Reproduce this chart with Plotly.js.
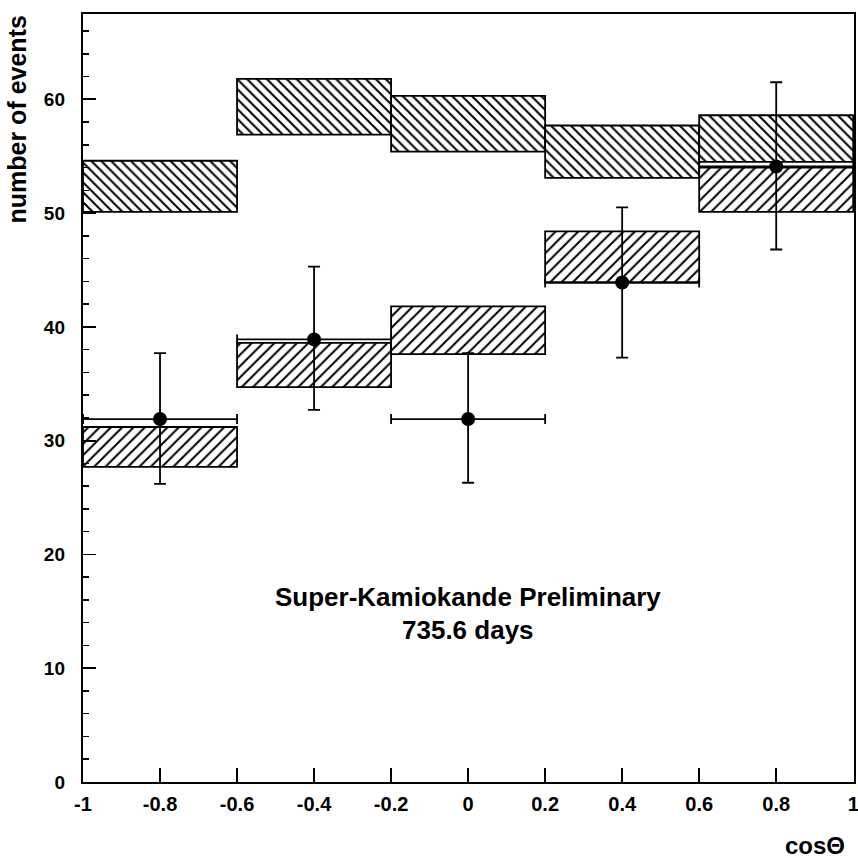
<!DOCTYPE html>
<html>
<head>
<meta charset="utf-8">
<script src="https://cdn.plot.ly/plotly-3.0.1.min.js"></script>
<style>
  html, body { margin: 0; padding: 0; background: #fff; }
  #chart { width: 858px; height: 858px; }
</style>
</head>
<body>
<div id="chart"></div>
<script>
// Bins in cos(theta)
const binCenters = [-0.8, -0.4, 0.0, 0.4, 0.8];
const binWidth = [0.4, 0.4, 0.4, 0.4, 0.4];
const binHalfWidth = [0.2, 0.2, 0.2, 0.2, 0.2];

// Prediction without oscillation (upper hatched boxes)
const noOscLow  = [50.1, 56.9, 55.4, 53.1, 54.5];
const noOscHigh = [54.6, 61.8, 60.3, 57.7, 58.6];

// Prediction with oscillation (lower hatched boxes)
const oscLow  = [27.7, 34.7, 37.6, 43.9, 50.1];
const oscHigh = [31.2, 38.6, 41.8, 48.4, 54.0];

// Data points
const dataY = [31.9, 38.9, 31.9, 43.9, 54.1];
const dataErrPlus  = [5.8, 6.4, 5.8, 6.6, 7.4];
const dataErrMinus = [5.7, 6.2, 5.6, 6.6, 7.3];

// Tick labels
const xTickVals = [-1, -0.8, -0.6, -0.4, -0.2, 0, 0.2, 0.4, 0.6, 0.8, 1];
const xTickText = ["-1", "-0.8", "-0.6", "-0.4", "-0.2", "0", "0.2", "0.4", "0.6", "0.8", "1"];
const yTickVals = [0, 10, 20, 30, 40, 50, 60];
const yTickText = ["0", "10", "20", "30", "40", "50", "60"];

const FONT = "'Liberation Sans', Arial, Helvetica, sans-serif";

function diff(hi, lo) { return hi.map((h, i) => h - lo[i]); }

const traces = [
  {
    type: 'bar',
    x: binCenters,
    y: diff(noOscHigh, noOscLow),
    base: noOscLow,
    width: binWidth,
    marker: {
      color: 'white',
      line: { color: 'black', width: 1.8 },
      pattern: { shape: '\\', fgcolor: 'black', bgcolor: 'white', size: 7, solidity: 0.28 }
    },
    hoverinfo: 'skip',
    showlegend: false
  },
  {
    type: 'bar',
    x: binCenters,
    y: diff(oscHigh, oscLow),
    base: oscLow,
    width: binWidth,
    marker: {
      color: 'white',
      line: { color: 'black', width: 1.8 },
      pattern: { shape: '/', fgcolor: 'black', bgcolor: 'white', size: 8, solidity: 0.25 }
    },
    hoverinfo: 'skip',
    showlegend: false
  },
  {
    type: 'scatter',
    mode: 'markers',
    x: binCenters,
    y: dataY,
    marker: { color: 'black', size: 14 },
    error_y: { type: 'data', symmetric: false, array: dataErrPlus, arrayminus: dataErrMinus,
               color: 'black', thickness: 1.8, width: 6 },
    error_x: { type: 'data', array: binHalfWidth, color: 'black', thickness: 1.8, width: 5 },
    showlegend: false
  }
];

const layout = {
  width: 858, height: 858,
  margin: { l: 83, r: 4, t: 14, b: 76 },
  paper_bgcolor: 'white', plot_bgcolor: 'white',
  barmode: 'overlay',
  showlegend: false,
  font: { family: FONT, color: 'black' },
  xaxis: {
    range: [-1, 1.002],
    tickvals: xTickVals, ticktext: xTickText,
    ticks: 'inside', ticklen: 14, tickwidth: 1.8, tickcolor: 'black',
    showline: true, mirror: true, linecolor: 'black', linewidth: 2.2,
    showgrid: false, zeroline: false,
    tickfont: { family: FONT, size: 20, color: 'black', weight: 'bold' },
    ticklabelstandoff: 3,
    ticklabeloverflow: 'allow'
  },
  yaxis: {
    range: [0, 67.5],
    tickvals: yTickVals, ticktext: yTickText,
    ticks: 'inside', ticklen: 13, tickwidth: 1.8, tickcolor: 'black',
    minor: { dtick: 2, ticks: 'inside', ticklen: 6, tickwidth: 1.5, tickcolor: 'black' },
    showline: true, mirror: true, linecolor: 'black', linewidth: 2.2,
    showgrid: false, zeroline: false,
    tickfont: { family: FONT, size: 19, color: 'black', weight: 'bold' },
    ticklabelstandoff: 12
  },
  annotations: [
    { xref: 'paper', yref: 'paper', x: -0.107, y: 1.0, xanchor: 'left', yanchor: 'top',
      text: '<b>number of events</b>', textangle: -90, showarrow: false,
      font: { family: FONT, size: 25, color: 'black' } },
    { xref: 'paper', yref: 'paper', x: 0.99, y: -0.064, xanchor: 'right', yanchor: 'top',
      text: '<b>cosΘ</b>', showarrow: false, borderpad: 0,
      font: { family: FONT, size: 24, color: 'black' } },
    { xref: 'x', yref: 'y', x: 0.0, y: 16.3, xanchor: 'center', yanchor: 'middle',
      text: '<b>Super-Kamiokande Preliminary</b>', showarrow: false,
      font: { family: FONT, size: 26, color: 'black' } },
    { xref: 'x', yref: 'y', x: 0.0, y: 13.4, xanchor: 'center', yanchor: 'middle',
      text: '<b>735.6 days</b>', showarrow: false,
      font: { family: FONT, size: 26, color: 'black' } }
  ]
};

Plotly.newPlot('chart', traces, layout, { staticPlot: true, displayModeBar: false });
</script>
</body>
</html>
